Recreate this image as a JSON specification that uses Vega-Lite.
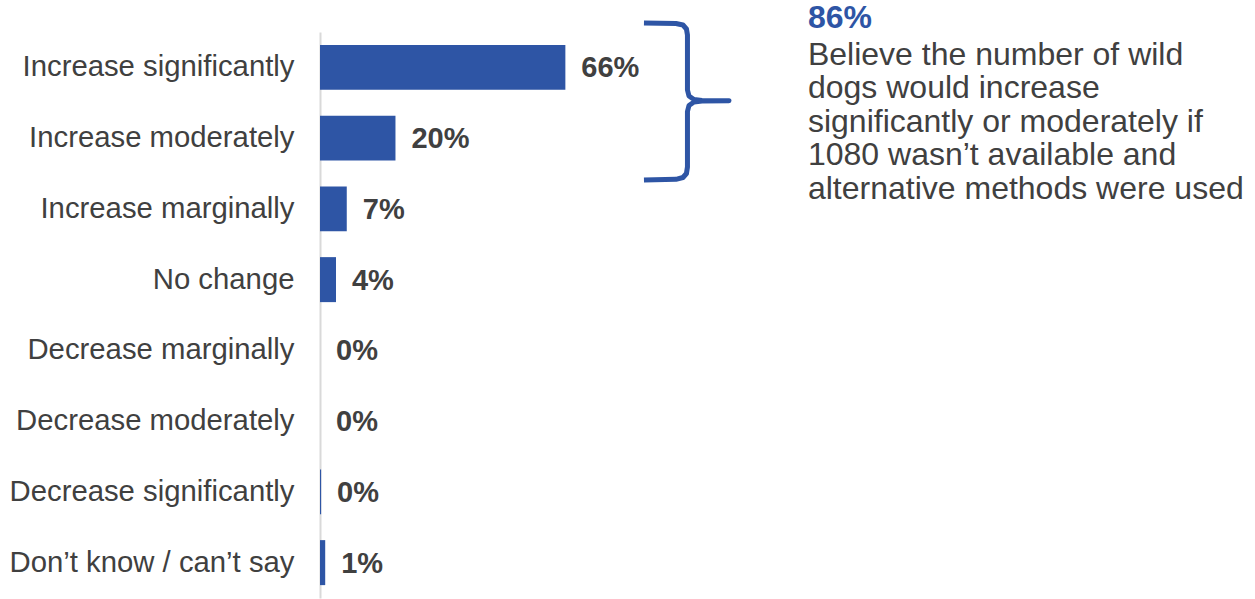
{
  "$schema": "https://vega.github.io/schema/vega-lite/v6.json",
  "autosize": "none",
  "width": 935,
  "height": 566,
  "padding": {"left": 320, "top": 32, "right": 0, "bottom": 1},
  "background": "white",
  "config": {"view": {"stroke": null}, "font": "Liberation Sans"},
  "datasets": {
    "bars": [
      {"answer": "Increase significantly", "share": 0.66},
      {"answer": "Increase moderately", "share": 0.203},
      {"answer": "Increase marginally", "share": 0.072},
      {"answer": "No change", "share": 0.043},
      {"answer": "Decrease marginally", "share": 0.0},
      {"answer": "Decrease moderately", "share": 0.0},
      {"answer": "Decrease significantly", "share": 0.003},
      {"answer": "Don’t know / can’t say", "share": 0.014}
    ],
    "brace": [
      {"i": 1, "x": 0.8714, "y": -0.1272},
      {"i": 2, "x": 0.9575, "y": -0.1201},
      {"i": 3, "x": 0.9763, "y": -0.0989},
      {"i": 4, "x": 0.9857, "y": -0.0424},
      {"i": 5, "x": 0.9884, "y": 0.0424},
      {"i": 6, "x": 0.9884, "y": 0.8198},
      {"i": 7, "x": 0.9925, "y": 0.9046},
      {"i": 8, "x": 1.0059, "y": 0.9541},
      {"i": 9, "x": 1.0274, "y": 0.9682},
      {"i": 10, "x": 1.1001, "y": 0.9718},
      {"i": 11, "x": 1.0274, "y": 0.9753},
      {"i": 12, "x": 1.0059, "y": 0.9894},
      {"i": 13, "x": 0.9925, "y": 1.0389},
      {"i": 14, "x": 0.9884, "y": 1.1237},
      {"i": 15, "x": 0.9884, "y": 1.9081},
      {"i": 16, "x": 0.9857, "y": 2.0},
      {"i": 17, "x": 0.9763, "y": 2.0565},
      {"i": 18, "x": 0.9575, "y": 2.082},
      {"i": 19, "x": 0.8714, "y": 2.0919}
    ],
    "head": [
      {"x": 1.3125, "y": -0.0565, "text": "86%"}
    ],
    "body": [
      {"x": 1.3125, "y": 0.4664, "text": "Believe the number of wild\ndogs would increase\nsignificantly or moderately if\n1080 wasn’t available and\nalternative methods were used"}
    ]
  },
  "layer": [
    {
      "data": {"name": "bars"},
      "encoding": {
        "y": {
          "field": "answer",
          "type": "nominal",
          "sort": null,
          "scale": {"paddingInner": 0.364, "paddingOuter": 0.182},
          "axis": {
            "title": null,
            "ticks": false,
            "domainColor": "#D9D9D9",
            "domainWidth": 2,
            "labelFont": "Liberation Sans",
            "labelFontSize": 29.3,
            "labelColor": "#404040",
            "labelPadding": 26,
            "labelLimit": 0
          }
        },
        "x": {
          "field": "share",
          "type": "quantitative",
          "scale": {"domain": [0, 2.515], "nice": false, "zero": true},
          "axis": null
        }
      },
      "layer": [
        {"mark": {"type": "bar", "color": "#2E55A5"}},
        {
          "mark": {
            "type": "text",
            "align": "left",
            "baseline": "middle",
            "dx": 16,
            "dy": 1,
            "fontSize": 29,
            "fontWeight": "bold",
            "color": "#404040",
            "font": "Liberation Sans"
          },
          "encoding": {"text": {"field": "share", "type": "quantitative", "format": ".0%"}}
        }
      ]
    },
    {
      "data": {"name": "brace"},
      "mark": {"type": "line", "color": "#2E55A5", "strokeWidth": 5, "strokeJoin": "round", "strokeCap": "butt"},
      "encoding": {
        "x": {"field": "x", "type": "quantitative", "scale": {"domain": [0, 2.515], "nice": false, "zero": true}, "axis": null},
        "y": {"field": "y", "type": "quantitative", "scale": {"domain": [0, 8], "reverse": true, "nice": false, "zero": false}, "axis": null},
        "order": {"field": "i", "type": "quantitative"}
      }
    },
    {
      "data": {"name": "head"},
      "mark": {
        "type": "text",
        "align": "left",
        "baseline": "alphabetic",
        "fontSize": 32,
        "fontWeight": "bold",
        "color": "#2E55A5",
        "font": "Liberation Sans"
      },
      "encoding": {
        "x": {"field": "x", "type": "quantitative", "scale": {"domain": [0, 2.515], "nice": false, "zero": true}, "axis": null},
        "y": {"field": "y", "type": "quantitative", "scale": {"domain": [0, 8], "reverse": true, "nice": false, "zero": false}, "axis": null},
        "text": {"field": "text", "type": "nominal"}
      }
    },
    {
      "data": {"name": "body"},
      "mark": {
        "type": "text",
        "align": "left",
        "baseline": "alphabetic",
        "fontSize": 32,
        "lineHeight": 33.5,
        "lineBreak": "\n",
        "color": "#404040",
        "font": "Liberation Sans"
      },
      "encoding": {
        "x": {"field": "x", "type": "quantitative", "scale": {"domain": [0, 2.515], "nice": false, "zero": true}, "axis": null},
        "y": {"field": "y", "type": "quantitative", "scale": {"domain": [0, 8], "reverse": true, "nice": false, "zero": false}, "axis": null},
        "text": {"field": "text", "type": "nominal"}
      }
    }
  ],
  "resolve": {"scale": {"y": "independent"}}
}
